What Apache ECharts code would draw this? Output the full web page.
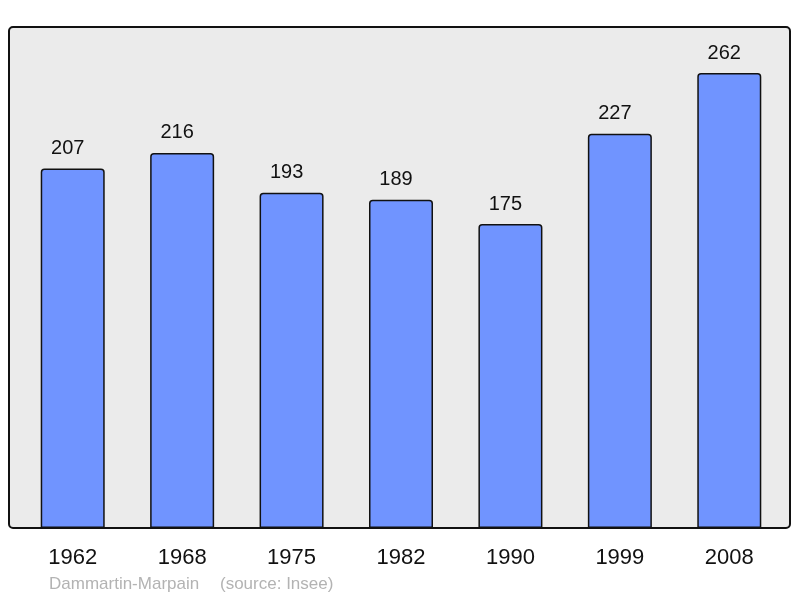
<!DOCTYPE html>
<html><head><meta charset="utf-8">
<script src="https://cdn.jsdelivr.net/npm/echarts@6/dist/echarts.min.js"></script>
<style>html,body{margin:0;padding:0;background:#fff}#c{width:800px;height:598px}</style>
</head><body><div id="c"></div>
<script>
const years = ['1962','1968','1975','1982','1990','1999','2008'];
const population = [207, 216, 193, 189, 175, 227, 262];
const footerName = 'Dammartin-Marpain';
const footerSource = '(source: Insee)';
const yMax = 288.5;

const chart = echarts.init(document.getElementById('c'), null, {renderer:'canvas'});
chart.setOption({
  animation: false,
  backgroundColor: '#ffffff',
  textStyle: { fontFamily: 'Liberation Sans, Arial, sans-serif' },
  grid: { left: 18, right: 16, top: 27, bottom: 70, containLabel: false },
  graphic: [
    { type: 'rect', z: -10, shape: { x: 9, y: 27, width: 781, height: 501, r: 4 },
      style: { fill: '#ebebeb', stroke: '#111', lineWidth: 2 } },
    { type: 'text', left: 49, top: 576, style: { text: footerName, fill: '#b3b3b3', font: '17px Liberation Sans, Arial, sans-serif' } },
    { type: 'text', left: 220, top: 576, style: { text: footerSource, fill: '#b3b3b3', font: '17px Liberation Sans, Arial, sans-serif' } }
  ],
  xAxis: {
    type: 'category', data: years,
    axisLine: { show: false }, axisTick: { show: false },
    axisLabel: { fontSize: 22, color: '#111', margin: 19, fontFamily: 'Liberation Sans, Arial, sans-serif' }
  },
  yAxis: {
    type: 'value', min: 0, max: yMax, show: false,
    splitLine: { show: false }
  },
  series: [{
    type: 'bar', data: population, barWidth: 64, z: 2,
    itemStyle: { color: '#7094ff', borderColor: '#111', borderWidth: 1.5, borderRadius: [3,3,0,0] },
    label: { show: true, position: 'top', distance: 10, offset: [-5, 0], fontSize: 20, color: '#111',
             fontFamily: 'Liberation Sans, Arial, sans-serif' }
  }]
});
</script></body></html>
